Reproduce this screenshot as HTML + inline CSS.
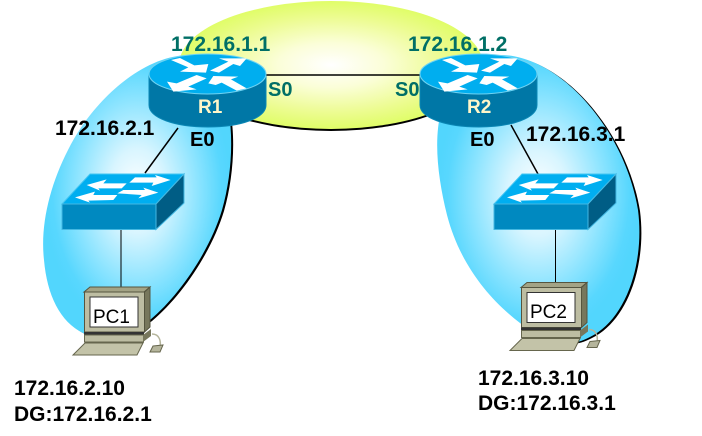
<!DOCTYPE html>
<html>
<head>
<meta charset="utf-8">
<style>
html,body{margin:0;padding:0;background:#fff}
svg{display:block}
text{font-family:"Liberation Sans",sans-serif}
.b{font-weight:bold;font-size:21px;fill:#000}
.t{font-weight:bold;font-size:21px;fill:#006f66}
.s{font-weight:bold;font-size:20px;fill:#006f66}
.e{font-weight:bold;font-size:20px;fill:#000}
.r{font-weight:bold;font-size:19px;fill:#fff6c8}
.p{font-size:19px;fill:#000}
</style>
</head>
<body>
<svg width="702" height="436" viewBox="0 0 702 436" xmlns="http://www.w3.org/2000/svg">
<defs>
<radialGradient id="y" cx="50%" cy="50%" r="50%">
<stop offset="0" stop-color="#ffffff"/><stop offset=".35" stop-color="#fbfed8"/><stop offset=".75" stop-color="#ecfc90"/><stop offset="1" stop-color="#e0fd68"/>
</radialGradient>
<radialGradient id="bl" cx="50%" cy="48%" r="50%">
<stop offset="0" stop-color="#ffffff"/><stop offset=".3" stop-color="#d8f5ff"/><stop offset=".65" stop-color="#8ce4ff"/><stop offset=".9" stop-color="#58d7fe"/><stop offset="1" stop-color="#52d6fd"/>
</radialGradient>
<g id="arrows">
<polygon points="78,30 105,24 148,46 190,42 183,68 105,65 130,52" fill="#fff"/>
<polygon points="195,62 250,35 222,25 305,25 285,48 265,42 222,68" fill="#fff"/>
<polygon points="155,75 185,85 130,110 155,118 85,125 66,95 95,100" fill="#fff"/>
<polygon points="190,100 205,78 280,80 258,88 305,115 275,122 230,98 212,105" fill="#fff"/>
</g>
<g id="router">
<path d="M149 74V105C149 118 175 127 208 127C241 127 266 118 266 105V74Z" fill="#0077a6" stroke="#0a87b5"/>
<ellipse cx="207.500" cy="74" rx="58.500" ry="20" fill="#00aeef" stroke="#6fd3f2"/>
<use href="#arrows" transform="translate(145 50) scale(.3333)"/>
</g>
<g id="switch">
<polygon points="90,174 184,174 156,204 62,204" fill="#00aef0" stroke="#44c6f2"/>
<polygon points="62,204 156,204 156,229.500 62,229.500" fill="#0089c0" stroke="#44b8e2"/>
<polygon points="156,204 184,174 184,203 156,229.500" fill="#005d85" stroke="#44b8e2"/>
<g transform="translate(40 160) scale(.3333)" fill="#fff">
<polygon points="140,75 200,58 190,70 260,70 245,85 175,85 180,92"/>
<polygon points="268,68 285,52 350,52 345,45 392,60 335,78 340,68"/>
<polygon points="105,112 165,95 160,105 232,105 220,120 145,122 150,128"/>
<polygon points="232,100 250,90 315,90 310,83 355,98 295,115 305,105"/>
</g>
</g>
<g id="pc">
<polygon points="84,292 90,287 150,287 144,292" fill="#a3a385" stroke="#55553f"/>
<rect x="84.500" y="292" width="60" height="40" fill="#bdbda2" stroke="#55553f"/>
<polygon points="144.500,292 150,287 150,327 144.500,332" fill="#77775c" stroke="#55553f"/>
<rect x="90" y="297" width="48" height="30" fill="#fff" stroke="#333"/>
<rect x="84" y="332" width="60" height="2.500" fill="#333"/>
<rect x="84.500" y="335" width="59" height="7" fill="#bdbda2" stroke="#66664d"/>
<polygon points="143,335 151,329 151,336 143,342" fill="#77775c"/>
<polygon points="85,343 143,343 137,355 73,355" fill="#c3c3a8" stroke="#66664d"/>
<path d="M152 334C160 334 161 342 160 347" fill="none" stroke="#b5b59c" stroke-width="1.5"/>
<polygon points="153,346 163,345 160,352 150,352" fill="#b5b59c" stroke="#66664d"/>
</g>
<path id="lb" d="M190 55C140 55 90 105 68 150C50 185 40 225 44 260C47 295 60 322 83 333C110 345 130 335 150 320C180 295 210 250 222 210C232 175 235 130 225 95C218 70 205 55 190 55Z"/>
<path id="rb" d="M500 55C560 55 625 130 638 210C645 265 625 320 590 337C570 348 550 345 520 323C490 300 460 265 447 215C437 175 432 130 445 100C455 75 475 55 500 55Z"/>
</defs>

<ellipse cx="331" cy="67" rx="152" ry="64" fill="#000"/>
<ellipse cx="331" cy="65" rx="152" ry="64" fill="url(#y)"/>

<use href="#lb" fill="#000" transform="translate(2 1)"/>
<use href="#lb" fill="url(#bl)"/>
<use href="#rb" fill="#000" transform="translate(2 1)"/>
<use href="#rb" fill="url(#bl)"/>

<line x1="208" y1="75" x2="479" y2="75" stroke="#000" stroke-width="1.5"/>
<line x1="178" y1="128" x2="145" y2="173" stroke="#000" stroke-width="1.5"/>
<line x1="511" y1="125" x2="538" y2="174" stroke="#000" stroke-width="1.5"/>
<line x1="121" y1="230" x2="121" y2="287" stroke="#000"/>
<line x1="555.500" y1="230" x2="555.500" y2="282" stroke="#000"/>

<use href="#router"/>
<use href="#router" x="271"/>
<use href="#switch"/>
<use href="#switch" x="432"/>
<use href="#pc"/>
<use href="#pc" x="437" y="-4.500"/>

<text class="t" x="171" y="51">172.16.1.1</text>
<text class="t" x="408" y="51">172.16.1.2</text>
<text class="s" x="268" y="96">S0</text>
<text class="s" x="395" y="96">S0</text>
<text class="r" x="198" y="113">R1</text>
<text class="r" x="467" y="113">R2</text>
<text class="b" x="55" y="135">172.16.2.1</text>
<text class="b" x="526" y="141">172.16.3.1</text>
<text class="e" x="190" y="146">E0</text>
<text class="e" x="470" y="146">E0</text>
<text class="p" x="93" y="323">PC1</text>
<text class="p" x="530" y="318">PC2</text>
<text class="b" x="14" y="395">172.16.2.10</text>
<text class="b" x="14" y="421">DG:172.16.2.1</text>
<text class="b" x="478" y="385">172.16.3.10</text>
<text class="b" x="478" y="410">DG:172.16.3.1</text>
</svg>
</body>
</html>
